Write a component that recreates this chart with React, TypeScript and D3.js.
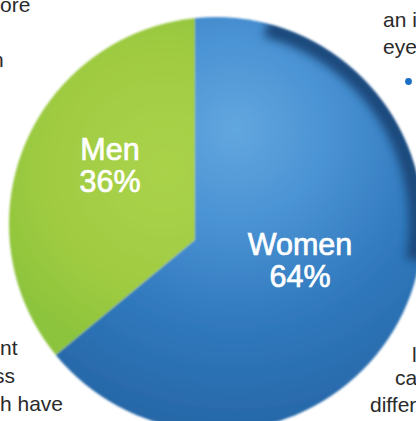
import * as d3 from 'd3';
import { useMemo } from 'react';

// pie data
const categories = ['Men', 'Women'];
const shares = [36, 64];
const sliceColors = ['url(#greenFill)', 'url(#blueFill)'];

// fragments of the surrounding page text (cropped at the picture edges)
const pageTexts = ['ore', 'n', 'nt', 'ss', 'h have', 'an i', 'eye', 'l', 'ca', 'differ'];
const pageTextPos: [number, number][] = [
  [0, 12],
  [-8, 67],
  [0, 355],
  [-6, 383],
  [0, 411],
  [383, 27],
  [383, 54],
  [412, 362],
  [395, 385],
  [370, 412],
];

const W = 416;
const H = 421;

export default function App() {
  // disc outline and the apex where the slices meet (the picture is a slightly tilted 3D pie)
  const disc = { cx: 216, cy: 224, r: 207 };
  const apex = { x: 195, y: 240 };
  const labelPos: [number, number][] = [
    [110, 160],
    [300, 255],
  ];

  const arcs = useMemo(() => {
    const start = (-2 * Math.PI * shares[0]) / d3.sum(shares);
    return d3
      .pie<number>()
      .sort(null)
      .startAngle(start)
      .endAngle(start + 2 * Math.PI)(shares);
  }, []);

  const sliceArc = d3.arc<d3.PieArcDatum<number>>().innerRadius(0).outerRadius(320);
  const rimArc = d3
    .arc()
    .innerRadius(disc.r - 14)
    .outerRadius(disc.r + 4)
    .startAngle(0.25)
    .endAngle(1.75);

  return (
    <svg
      width={W}
      height={H}
      style={{ position: 'absolute', left: 0, top: 0, background: '#fff' }}
    >
      <defs>
        <clipPath id="disc">
          <circle cx={disc.cx} cy={disc.cy} r={disc.r} />
        </clipPath>
        {/* gradients are in the slices' local space (origin at the apex) */}
        <radialGradient
          id="blueFill"
          gradientUnits="userSpaceOnUse"
          cx={235 - apex.x}
          cy={130 - apex.y}
          r={300}
        >
          <stop offset="0" stopColor="#62a7df" />
          <stop offset="0.3" stopColor="#4b93d4" />
          <stop offset="0.65" stopColor="#3079bd" />
          <stop offset="1" stopColor="#2768a8" />
        </radialGradient>
        <radialGradient
          id="greenFill"
          gradientUnits="userSpaceOnUse"
          cx={165 - apex.x}
          cy={170 - apex.y}
          r={190}
        >
          <stop offset="0" stopColor="#aad34b" />
          <stop offset="0.6" stopColor="#a1cc42" />
          <stop offset="1" stopColor="#8dc43c" />
        </radialGradient>
        <filter id="soft" x="-10%" y="-10%" width="120%" height="120%">
          <feGaussianBlur stdDeviation="1.1" />
        </filter>
        <filter id="rimBlur" x="-20%" y="-20%" width="140%" height="140%">
          <feGaussianBlur stdDeviation="4" />
        </filter>
      </defs>

      <g fontFamily="'Liberation Sans', Arial, sans-serif" fontSize={21} fill="#2a2a2a">
        {pageTexts.map((t, i) => (
          <text key={i} x={pageTextPos[i][0]} y={pageTextPos[i][1]}>
            {t}
          </text>
        ))}
      </g>
      <circle cx={408.5} cy={81.5} r={3.4} fill="#1b6fc3" />

      <g filter="url(#soft)">
        <g clipPath="url(#disc)">
          {arcs.map((a, i) => (
            <path
              key={categories[i]}
              transform={`translate(${apex.x},${apex.y})`}
              d={sliceArc(a) ?? ''}
              fill={sliceColors[i]}
            />
          ))}
          <path
            transform={`translate(${disc.cx},${disc.cy})`}
            d={(rimArc as any)() ?? ''}
            fill="#1c4a7c"
            filter="url(#rimBlur)"
          />
        </g>
      </g>

      <g
        fontFamily="'Liberation Sans', Arial, sans-serif"
        fontSize={30.5}
        fill="#fff"
        stroke="#fff"
        strokeWidth={0.7}
        textAnchor="middle"
      >
        {categories.map((c, i) => (
          <text key={c} x={labelPos[i][0]} y={labelPos[i][1]}>
            <tspan x={labelPos[i][0]}>{c}</tspan>
            <tspan x={labelPos[i][0]} dy={32}>
              {`${shares[i]}%`}
            </tspan>
          </text>
        ))}
      </g>
    </svg>
  );
}
